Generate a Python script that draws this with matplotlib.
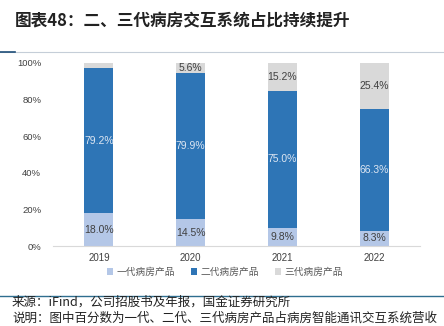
import matplotlib.pyplot as plt
from matplotlib.lines import Line2D
import numpy as np

plt.rcParams['font.family'] = ['Liberation Sans', 'Noto Sans CJK SC', 'DejaVu Sans']

# 数据
years = ['2019', '2020', '2021', '2022']
gen1 = [18.0, 14.5, 9.8, 8.3]
gen2 = [79.2, 79.9, 75.0, 66.3]
gen3 = [2.8, 5.6, 15.2, 25.4]
show_gen3 = [False, True, True, True]
series_names = ['一代病房产品', '二代病房产品', '三代病房产品']
colors = ['#B4C7E7', '#2E75B6', '#D9D9D9']

fig = plt.figure(figsize=(4.44, 3.26), dpi=100)
ax = fig.add_axes([53 / 444, 1 - 246 / 326, 367 / 444, 183 / 326])

x = np.arange(len(years))
w = 0.315
g1 = np.array(gen1) / 100
g2 = np.array(gen2) / 100
g3 = np.array(gen3) / 100
ax.bar(x, g1, w, color=colors[0], label=series_names[0])
ax.bar(x, g2, w, bottom=g1, color=colors[1], label=series_names[1])
ax.bar(x, g3, w, bottom=g1 + g2, color=colors[2], label=series_names[2])

# 数据标签
for i in range(len(years)):
    ax.text(x[i], g1[i] / 2, f'{gen1[i]:.1f}%', ha='center', va='center',
            fontsize=7.5, color='#404040')
    ax.text(x[i], g1[i] + g2[i] / 2, f'{gen2[i]:.1f}%', ha='center', va='center',
            fontsize=7.5, color='#DDE6F2')
    if show_gen3[i]:
        ax.text(x[i], g1[i] + g2[i] + g3[i] / 2, f'{gen3[i]:.1f}%', ha='center',
                va='center', fontsize=7.5, color='#404040')

ax.set_xlim(-0.5, 3.5)
ax.set_ylim(0, 1)
ax.set_xticks(x)
ax.set_xticklabels(years)
ax.set_yticks(np.arange(0, 1.01, 0.2))
ax.set_yticklabels([f'{v}%' for v in range(0, 101, 20)])
ax.tick_params(axis='both', length=0, colors='#404040')
ax.tick_params(axis='y', pad=8.5, labelsize=6.8)
ax.tick_params(axis='x', pad=5, labelsize=7)
for s in ['top', 'right', 'left']:
    ax.spines[s].set_visible(False)
ax.spines['bottom'].set_color('#D9D9D9')

leg = fig.legend(loc='center', bbox_to_anchor=(225 / 444, 1 - 272 / 326), ncol=3,
                 frameon=False, handlelength=0.6, handleheight=0.6,
                 handletextpad=0.4, columnspacing=1.6,
                 prop={'family': ['Noto Sans CJK SC'], 'size': 7})
for t in leg.get_texts():
    t.set_color('#595959')

# 标题
fig.text(15 / 444, 1 - 20 / 326, '图表48：二、三代病房交互系统占比持续提升',
         fontsize=12, fontweight='bold', style='italic', va='center',
         family=['Noto Sans CJK SC', 'DejaVu Sans'], color='#222222')

# 分隔线
fig.add_artist(Line2D([0, 1], [1 - 51.5 / 326] * 2, transform=fig.transFigure,
                      color='#C5CED8', lw=0.8))
fig.add_artist(Line2D([0, 15 / 444], [1 - 51.5 / 326] * 2, transform=fig.transFigure,
                      color='#1F4E79', lw=1.2))
fig.add_artist(Line2D([0, 1], [1 - 296 / 326] * 2, transform=fig.transFigure,
                      color='#2F6E8F', lw=1.0))

# 注释
fig.text(12 / 444, 1 - 302 / 326, '来源：iFind，公司招股书及年报，国金证券研究所',
         fontsize=9, va='center', family=['Noto Sans CJK SC', 'DejaVu Sans'], color='#222222')
fig.text(12 / 444, 1 - 318 / 326,
         '说明：图中百分数为一代、二代、三代病房产品占病房智能通讯交互系统营收',
         fontsize=9, va='center', family=['Noto Sans CJK SC', 'DejaVu Sans'], color='#222222')

fig.savefig('out.png', dpi=100)
